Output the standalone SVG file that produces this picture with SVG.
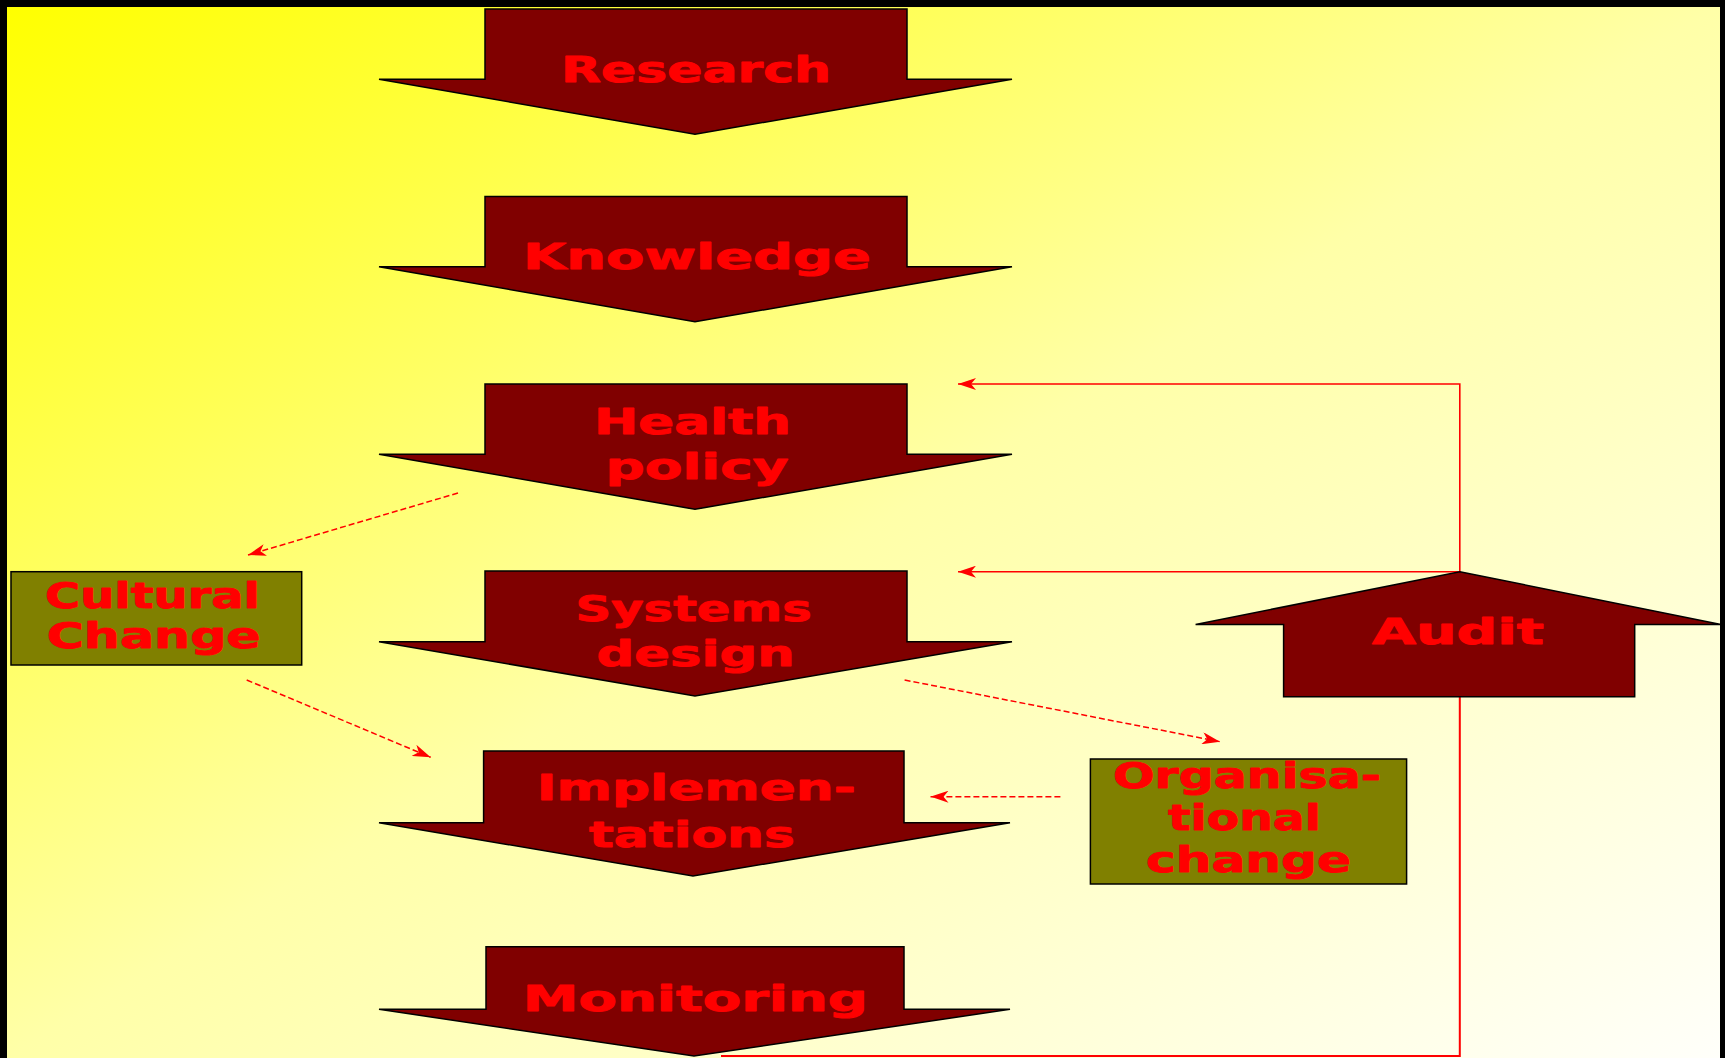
<svg xmlns="http://www.w3.org/2000/svg" width="1725" height="1058" viewBox="0 0 1725 1058">
<defs>
<linearGradient id="bg" x1="0" y1="0" x2="1" y2="1">
<stop offset="0" stop-color="#FFFF00"/>
<stop offset="0.5" stop-color="#FFFFA8"/>
<stop offset="1" stop-color="#FFFFFA"/>
</linearGradient>
<marker id="ah" markerUnits="userSpaceOnUse" viewBox="0 0 18 12" refX="18" refY="6" markerWidth="18" markerHeight="12" orient="auto">
<path d="M0,0 L18,6 L0,12 L5,6 z" fill="#FF0000"/>
</marker>
<style>
.arr{fill:#800000;stroke:#000000;stroke-width:1.5;stroke-linejoin:miter}
.box{fill:#808000;stroke:#000000;stroke-width:1.5}
.t{font-family:"DejaVu Sans","Verdana",sans-serif;font-weight:bold;font-size:35px;fill:#FF0000;stroke:#FF0000;stroke-width:0.9;stroke-linejoin:round}
.solid{fill:none;stroke:#FF0000;stroke-width:1.6}
.dash{fill:none;stroke:#FF0000;stroke-width:1.5;stroke-dasharray:6,3}
</style>
</defs>
<rect x="0" y="0" width="1725" height="1058" fill="#000000"/>
<rect x="7" y="7" width="1713" height="1051" fill="url(#bg)"/>

<g id="connectors">
<polyline class="solid" points="1459.8,571.7 1459.8,384 958,384" marker-end="url(#ah)"/>
<line class="solid" x1="1459.8" y1="571.7" x2="958" y2="571.7" marker-end="url(#ah)"/>
<polyline class="solid" points="1459.8,696.7 1459.8,1056 721,1056" style="stroke-width:2"/>
<line class="dash" x1="458" y1="493" x2="248" y2="555" marker-end="url(#ah)"/>
<line class="dash" x1="246.7" y1="680" x2="430.7" y2="757.3" marker-end="url(#ah)"/>
<line class="dash" x1="904.6" y1="680" x2="1220" y2="741.7" marker-end="url(#ah)"/>
<line class="dash" x1="1060.4" y1="796.7" x2="930.5" y2="796.7" marker-end="url(#ah)"/>
</g>

<g id="research">
<polygon class="arr" points="485,9 907,9 907,79.3 1012,79.3 695,134.3 379,79.3 485,79.3"/>
<text class="t" transform="translate(561,82) scale(1.485,1)" textLength="181.8" lengthAdjust="spacing">Research</text>
</g>
<g id="knowledge">
<polygon class="arr" points="485,196.5 907,196.5 907,266.8 1012,266.8 695,321.8 379,266.8 485,266.8"/>
<text class="t" transform="translate(523,268.5) scale(1.596,1)" textLength="218" lengthAdjust="spacing">Knowledge</text>
</g>
<g id="health-policy">
<polygon class="arr" points="485,384 907,384 907,454.3 1012,454.3 695,509.3 379,454.3 485,454.3"/>
<text class="t" transform="translate(594,434) scale(1.512,1)" textLength="130.3" lengthAdjust="spacing">Health</text>
<text class="t" transform="translate(605.5,479.3) scale(1.568,1)" textLength="116.7" lengthAdjust="spacing">policy</text>
</g>
<g id="systems-design">
<polygon class="arr" points="485,571 907,571 907,641.7 1012,641.7 695,696 379,641.7 485,641.7"/>
<text class="t" transform="translate(575.6,621) scale(1.417,1)" textLength="166.6" lengthAdjust="spacing">Systems</text>
<text class="t" transform="translate(596.6,666) scale(1.505,1)" textLength="131.6" lengthAdjust="spacing">design</text>
</g>
<g id="implementations">
<polygon class="arr" points="483.6,751 904,751 904,822.7 1010,822.7 693,876 379,822.7 483.6,822.7"/>
<text class="t" transform="translate(536.7,800) scale(1.52,1)" textLength="209.9" lengthAdjust="spacing">Implemen-</text>
<text class="t" transform="translate(589,846.7) scale(1.483,1)" textLength="138.9" lengthAdjust="spacing">tations</text>
</g>
<g id="monitoring">
<polygon class="arr" points="486,946.7 904,946.7 904,1009.3 1010,1009.3 694,1056 379,1009.3 486,1009.3"/>
<text class="t" transform="translate(522.8,1011) scale(1.599,1)" textLength="215.8" lengthAdjust="spacing">Monitoring</text>
</g>
<g id="cultural-change">
<rect class="box" x="11" y="571.7" width="290.7" height="93.3"/>
<text class="t" transform="translate(45,608.3) scale(1.368,1)" textLength="157.2" lengthAdjust="spacing">Cultural</text>
<text class="t" transform="translate(46.7,648.3) scale(1.446,1)" textLength="148" lengthAdjust="spacing">Change</text>
</g>
<g id="organisational-change">
<rect class="box" x="1090.4" y="759" width="316.2" height="125"/>
<text class="t" transform="translate(1113,788.3) scale(1.399,1)" textLength="191.6" lengthAdjust="spacing">Organisa-</text>
<text class="t" transform="translate(1168,830) scale(1.35,1)" textLength="113.3" lengthAdjust="spacing">tional</text>
<text class="t" transform="translate(1146,871.7) scale(1.434,1)" textLength="143" lengthAdjust="spacing">change</text>
</g>
<g id="audit">
<polygon class="arr" points="1459.8,571.7 1721,624.5 1634.7,624.5 1634.7,696.7 1283.6,696.7 1283.6,624.5 1195.6,624.5"/>
<text class="t" transform="translate(1372,644.3) scale(1.626,1)" textLength="105.8" lengthAdjust="spacing">Audit</text>
</g>
<rect x="1720" y="0" width="5" height="1058" fill="#000000"/>
</svg>
